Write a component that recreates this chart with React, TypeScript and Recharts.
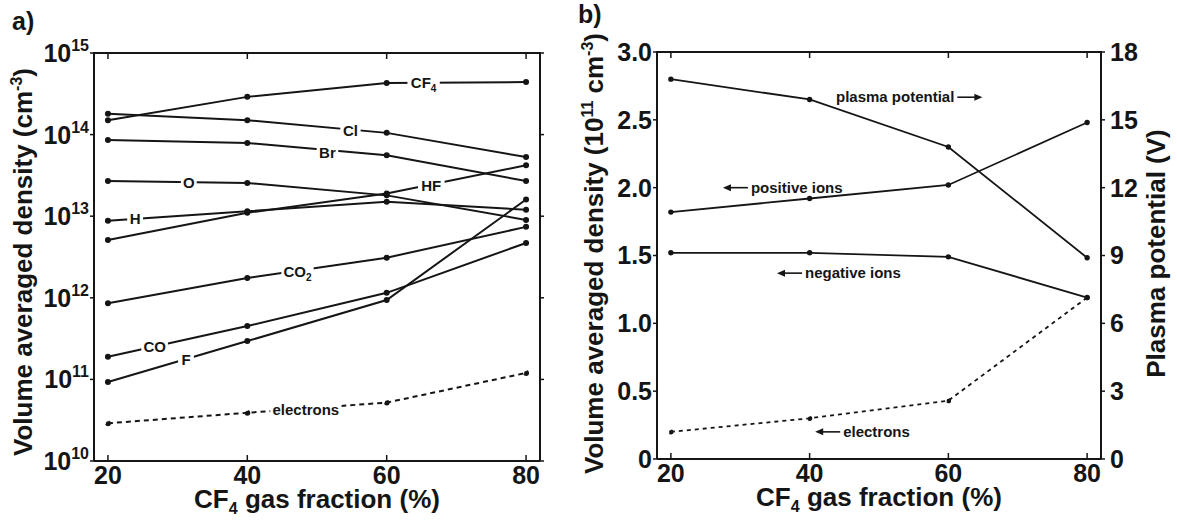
import React from "react";
import { LineChart, Line, XAxis, YAxis, ReferenceDot } from "recharts";

const FONT = "'Liberation Sans', Arial, Helvetica, sans-serif";
const INK = "#151515";

// CF4 gas fraction (%), shared by both panels
const fraction = [20, 40, 60, 80];
const fractionTicks = [20, 40, 60, 80];

// a) volume averaged densities (cm^-3)
const cf4 = [1.5e14, 2.9e14, 4.3e14, 4.4e14];
const cl = [1.8e14, 1.5e14, 1.05e14, 5.3e13];
const br = [8.6e13, 7.9e13, 5.6e13, 2.7e13];
const oxygen = [2.7e13, 2.55e13, 1.8e13, 9e12];
const hydrogen = [8.8e12, 1.15e13, 1.5e13, 1.2e13];
const hf = [5.1e12, 1.1e13, 1.9e13, 4.2e13];
const co2 = [8.6e11, 1.75e12, 3.1e12, 7.4e12];
const co = [1.9e11, 4.5e11, 1.15e12, 4.7e12];
const fluorine = [9.3e10, 2.95e11, 9.4e11, 1.6e13];
const electronsA = [2.9e10, 3.9e10, 5.2e10, 1.2e11];
const logTicks = [1e10, 1e11, 1e12, 1e13, 1e14, 1e15];

// b) densities (10^11 cm^-3) and plasma potential (V)
const positiveIons = [1.82, 1.92, 2.02, 2.48];
const negativeIons = [1.52, 1.52, 1.49, 1.19];
const electronsB = [0.2, 0.3, 0.43, 1.19];
const plasmaPotential = [16.8, 15.9, 13.8, 8.9];
const densityTicks = [0, 0.5, 1, 1.5, 2, 2.5, 3];
const potentialTicks = [0, 3, 6, 9, 12, 15, 18];

const rowsA = fraction.map((x, i) => ({
  x, cf4: cf4[i], cl: cl[i], br: br[i], o: oxygen[i], h: hydrogen[i], hf: hf[i],
  co2: co2[i], co: co[i], f: fluorine[i], e: electronsA[i],
}));
const rowsB = fraction.map((x, i) => ({
  x, pos: positiveIons[i], neg: negativeIons[i], e: electronsB[i], vp: plasmaPotential[i],
}));

const seriesA = ["cf4", "cl", "br", "o", "h", "hf", "co2", "co", "f"];

// in-line labels of panel a (anchored in data space)
const tagsA = [
  { text: "CF", sub: "4", x: 65.3, y: 4.4e14 },
  { text: "Cl", x: 54.8, y: 1.12e14 },
  { text: "Br", x: 51.5, y: 6.1e13 },
  { text: "O", x: 31.6, y: 2.6e13 },
  { text: "HF", x: 66.4, y: 2.4e13 },
  { text: "H", x: 23.9, y: 9.4e12 },
  { text: "CO", sub: "2", x: 47.2, y: 2.1e12 },
  { text: "CO", x: 26.7, y: 2.5e11 },
  { text: "F", x: 31.2, y: 1.75e11 },
  { text: "electrons", x: 48.4, y: 4.3e10 },
];

// arrow notes of panel b (arrow tip in data space)
const notesB = [
  { text: "plasma potential", dir: "right", x: 64.9, y: 16.0, axis: "right" },
  { text: "positive ions", dir: "left", x: 27.5, y: 2.0, axis: "left" },
  { text: "negative ions", dir: "left", x: 35.3, y: 1.37, axis: "left" },
  { text: "electrons", dir: "left", x: 40.8, y: 0.2, axis: "left" },
];

function measure(s: string, size: number) {
  let w = 0;
  for (const ch of s) {
    if ("iljtf".includes(ch)) w += 0.3;
    else if (ch === "r") w += 0.39;
    else if ("mw".includes(ch)) w += 0.89;
    else if (ch === " ") w += 0.28;
    else if (ch >= "A" && ch <= "Z") w += 0.72;
    else w += 0.57;
  }
  return w * size;
}

const bold = { fontFamily: FONT, fontWeight: 700, fill: INK } as const;

function Tag({ viewBox, text, sub }: any) {
  const cx = viewBox.x;
  const cy = viewBox.y;
  const w = measure(text, 15) + (sub ? measure(sub, 10) : 0) + 5;
  return (
    <g>
      <rect x={cx - w / 2} y={cy - 7} width={w} height={14} fill="#fff" />
      <text x={cx} y={cy + 5.5} textAnchor="middle" fontSize={15} {...bold}>
        {text}
        {sub && <tspan fontSize={10} dy={4}>{sub}</tspan>}
      </text>
    </g>
  );
}

function Note({ viewBox, text, dir }: any) {
  const x = viewBox.x;
  const y = viewBox.y;
  const s = dir === "left" ? 1 : -1;
  return (
    <g>
      <line x1={x + s * 5} x2={x + s * 25} y1={y} y2={y} stroke={INK} strokeWidth={1.6} />
      <path d={`M${x} ${y} L${x + s * 8} ${y - 3.5} L${x + s * 8} ${y + 3.5} Z`} fill={INK} />
      <text x={x + s * 28} y={y + 5} textAnchor={dir === "left" ? "start" : "end"} fontSize={15} {...bold}>
        {text}
      </text>
    </g>
  );
}

// bottom label + inward ticks on the bottom and the top frame edge
function FrameTick({ x, y, payload, span }: any) {
  return (
    <g>
      <line x1={x} x2={x} y1={y} y2={y - 6} stroke={INK} strokeWidth={1.5} />
      <line x1={x} x2={x} y1={y - span} y2={y - span + 6} stroke={INK} strokeWidth={1.5} />
      <text x={x} y={y + 23} textAnchor="middle" fontSize={25} {...bold}>{payload.value}</text>
    </g>
  );
}

function PowerTick({ x, y, payload }: any) {
  const exp = Math.round(Math.log10(payload.value));
  return (
    <text x={x} y={y + 9} textAnchor="end" fontSize={25} {...bold}>
      10<tspan fontSize={16} dy={-11}>{exp}</tspan>
    </text>
  );
}

function NoTick() {
  return <g />;
}

function XTitle({ viewBox }: any) {
  return (
    <text x={viewBox.x + viewBox.width / 2} y={viewBox.y + 47} textAnchor="middle" fontSize={26} {...bold}>
      CF<tspan fontSize={16} dy={6}>4</tspan>
      <tspan dy={-6}> gas fraction (%)</tspan>
    </text>
  );
}

function YTitle({ viewBox, dx, dy, kind }: any) {
  const x = viewBox.x + dx;
  const y = viewBox.y + viewBox.height / 2 + dy;
  return (
    <text x={x} y={y} transform={`rotate(-90 ${x} ${y})`} textAnchor="middle" fontSize={26} {...bold}>
      {kind === "a" && (
        <>
          Volume averaged density (cm<tspan fontSize={16} dy={-10}>-3</tspan>
          <tspan dy={10}>)</tspan>
        </>
      )}
      {kind === "b" && (
        <>
          Volume averaged density (10<tspan fontSize={16} dy={-10}>11</tspan>
          <tspan dy={10}> cm</tspan>
          <tspan fontSize={16} dy={-10}>-3</tspan>
          <tspan dy={10}>)</tspan>
        </>
      )}
      {kind === "v" && "Plasma potential (V)"}
    </text>
  );
}

const frame = () => ({ stroke: INK, strokeWidth: 2 });
const tickLine = () => ({ stroke: INK, strokeWidth: 1.5 });
const tickFont = () => ({ fontSize: 25, fontWeight: 700, fill: INK, fontFamily: FONT });

function PanelA() {
  return (
    <LineChart width={560} height={520} data={rowsA} margin={{ top: 53, right: 0, bottom: 0, left: 0 }}>
      <XAxis xAxisId="b" dataKey="x" type="number" domain={[18, 82]} ticks={fractionTicks} height={59}
        axisLine={frame()} tickLine={false} tickSize={0} tickMargin={0} tick={<FrameTick span={408} />}
        label={<XTitle />} />
      <YAxis yAxisId="l" scale="log" type="number" domain={[1e10, 1e15]} ticks={logTicks} allowDataOverflow
        width={94} axisLine={frame()} tickLine={tickLine()} tickSize={4} tickMargin={1} tick={<PowerTick />}
        label={<YTitle dx={32} dy={5} kind="a" />} />
      <YAxis yAxisId="r" orientation="right" scale="log" type="number" domain={[1e10, 1e15]} ticks={logTicks}
        allowDataOverflow width={20} axisLine={frame()} tickLine={tickLine()} tickSize={4} tick={<NoTick />} />
      {seriesA.map((k) => (
        <Line key={k} xAxisId="b" yAxisId="l" dataKey={k} type="linear" stroke={INK} strokeWidth={2}
          dot={{ r: 2, fill: INK, stroke: INK }} isAnimationActive={false} />
      ))}
      <Line xAxisId="b" yAxisId="l" dataKey="e" type="linear" stroke={INK} strokeWidth={2} strokeDasharray="5 4"
        dot={{ r: 2, fill: INK, stroke: INK }} isAnimationActive={false} />
      {tagsA.map((t, i) => (
        <ReferenceDot key={i} xAxisId="b" yAxisId="l" x={t.x} y={t.y} r={0}
          label={<Tag text={t.text} sub={t.sub} />} />
      ))}
    </LineChart>
  );
}

function PanelB() {
  return (
    <LineChart width={617} height={520} data={rowsB} margin={{ top: 52, right: 0, bottom: 0, left: 0 }}>
      <XAxis xAxisId="b" dataKey="x" type="number" domain={[18, 82]} ticks={fractionTicks} height={61}
        axisLine={frame()} tickLine={false} tickSize={0} tickMargin={0} tick={<FrameTick span={407} />}
        label={<XTitle />} />
      <YAxis yAxisId="left" type="number" domain={[0, 3]} ticks={densityTicks} width={97}
        axisLine={frame()} tickLine={tickLine()} tickSize={4} tickMargin={1} tick={tickFont()}
        tickFormatter={(v: number) => (v === 0 ? "0" : v.toFixed(1))}
        label={<YTitle dx={43} dy={-2} kind="b" />} />
      <YAxis yAxisId="right" orientation="right" type="number" domain={[0, 18]} ticks={potentialTicks} width={76}
        axisLine={frame()} tickLine={tickLine()} tickSize={4} tickMargin={5} tick={tickFont()}
        label={<YTitle dx={64} dy={-2} kind="v" />} />
      <Line xAxisId="b" yAxisId="left" dataKey="pos" type="linear" stroke={INK} strokeWidth={1.8}
        dot={{ r: 1.8, fill: INK, stroke: INK }} isAnimationActive={false} />
      <Line xAxisId="b" yAxisId="left" dataKey="neg" type="linear" stroke={INK} strokeWidth={1.8}
        dot={{ r: 1.8, fill: INK, stroke: INK }} isAnimationActive={false} />
      <Line xAxisId="b" yAxisId="left" dataKey="e" type="linear" stroke={INK} strokeWidth={1.8} strokeDasharray="4 4"
        dot={{ r: 1.8, fill: INK, stroke: INK }} isAnimationActive={false} />
      <Line xAxisId="b" yAxisId="right" dataKey="vp" type="linear" stroke={INK} strokeWidth={1.8}
        dot={{ r: 1.8, fill: INK, stroke: INK }} isAnimationActive={false} />
      {notesB.map((n, i) => (
        <ReferenceDot key={i} xAxisId="b" yAxisId={n.axis} x={n.x} y={n.y} r={0}
          label={<Note text={n.text} dir={n.dir} />} />
      ))}
    </LineChart>
  );
}

const letter = {
  position: "absolute" as const,
  fontFamily: FONT,
  fontWeight: 700,
  fontSize: 25,
  lineHeight: "25px",
  color: INK,
};

// top edge of each plot frame, laid over the charts
const topEdge = (left: number, top: number, width: number) => ({
  position: "absolute" as const,
  left, top, width, height: 2, background: INK,
});

export default function App() {
  return (
    <div style={{ position: "absolute", left: 0, top: 0, width: 1177, height: 520, background: "#fff", overflow: "hidden" }}>
      <div style={{ position: "absolute", left: 0, top: 0 }}>
        <PanelA />
      </div>
      <div style={{ position: "absolute", left: 560, top: 0 }}>
        <PanelB />
      </div>
      <div style={topEdge(93, 52, 448)} />
      <div style={topEdge(656, 51, 446)} />
      <div style={{ ...letter, left: 12, top: 9 }}>a)</div>
      <div style={{ ...letter, left: 578, top: 2 }}>b)</div>
    </div>
  );
}
